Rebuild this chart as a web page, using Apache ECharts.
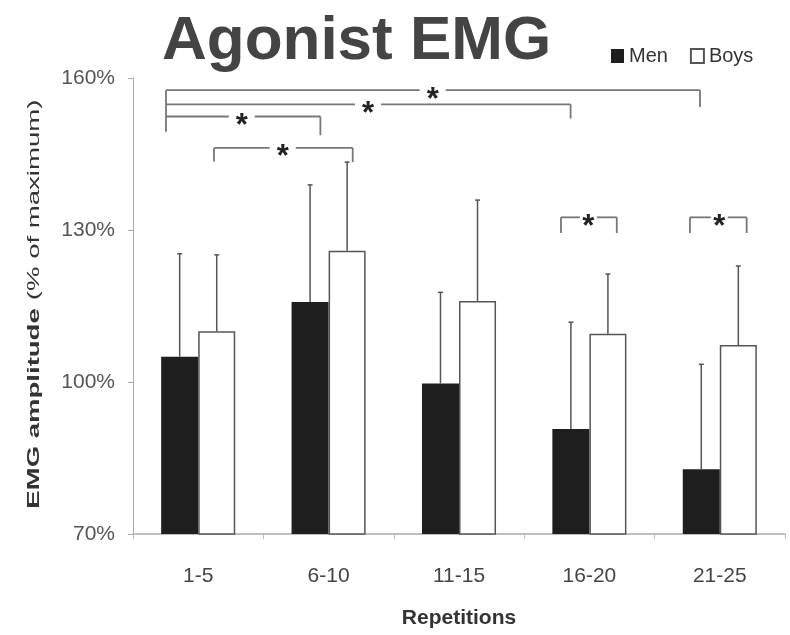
<!DOCTYPE html>
<html>
<head>
<meta charset="utf-8">
<title>Agonist EMG</title>
<script src="https://cdn.jsdelivr.net/npm/echarts@6/dist/echarts.min.js"></script>
<style>
  html, body { margin: 0; padding: 0; background: #fff; }
  #chart { width: 790px; height: 635px; }
</style>
</head>
<body>
<div id="chart"></div>
<script>
// Repetition blocks on the x axis
const categories = ['1-5', '6-10', '11-15', '16-20', '21-25'];

// EMG amplitude, % of maximum: group means and standard deviations
const menMean = [105.0, 115.8, 99.7, 90.7, 82.8];
const menSD   = [20.3, 23.1, 18.0, 21.1, 20.7];
const boysMean = [110.0, 125.9, 116.0, 109.5, 107.3];
const boysSD   = [15.1, 17.5, 19.9, 11.8, 15.6];

// Y axis range and tick step (%)
const yMin = 70, yMax = 160, yStep = 30;

// Significance brackets: x in category units (0 = centre of "1-5"),
// heights in % of maximum
const sigBrackets = [
  { from: -0.247, to: 3.848, level: 157.6, leftEnd: 149.4, rightEnd: 154.3, star: 1.798 },
  { from: -0.247, to: 2.856, level: 154.8, rightEnd: 152.0, star: 1.302 },
  { from: -0.247, to: 0.937, level: 152.4, rightEnd: 148.7, star: 0.334 },
  { from: 0.121, to: 1.185, level: 146.2, leftEnd: 143.5, rightEnd: 143.4, star: 0.648 },
  { from: 2.782, to: 3.210, level: 132.5, leftEnd: 129.4, rightEnd: 129.4, star: 2.992 },
  { from: 3.771, to: 4.206, level: 132.5, leftEnd: 129.4, rightEnd: 129.4, star: 3.996 }
];

const FONT = '"Liberation Sans", Arial, Helvetica, sans-serif';
const BAR_FRAC = 0.284;          // bar width as a share of the category band
const ERR_COLOR = '#555';
const BRACKET_COLOR = '#777';

// Vertical SD whisker sitting on top of a bar; side -1 = left bar, +1 = right bar
function errorBar(side) {
  return function (params, api) {
    const i = api.value(0), m = api.value(1), sd = api.value(2);
    const band = api.size([1, 0])[0];
    const base = api.coord([i, m]);
    const top = api.coord([i, m + sd]);
    const x = base[0] + side * band * BAR_FRAC / 2;
    return {
      type: 'group',
      children: [
        { type: 'line', shape: { x1: x, y1: base[1], x2: x, y2: top[1] },
          style: { stroke: ERR_COLOR, lineWidth: 1.5 } },
        { type: 'line', shape: { x1: x - 2.5, y1: top[1], x2: x + 2.5, y2: top[1] },
          style: { stroke: ERR_COLOR, lineWidth: 1.5 } }
      ]
    };
  };
}

// Bracket with a star in a gap of the horizontal line
function bracket(params, api) {
  const b = sigBrackets[params.dataIndex];
  const band = api.size([1, 0])[0];
  const c0 = api.coord([0, b.level]);
  const px = p => c0[0] + p * band;
  const yOf = v => api.coord([0, v])[1];
  const y = c0[1];
  const xl = px(b.from), xr = px(b.to), xs = px(b.star);
  const gap = (b.to - b.from) > 0.6 ? 13 : 8.5;
  const st = { stroke: BRACKET_COLOR, lineWidth: 1.8 };
  const children = [
    { type: 'line', shape: { x1: xl, y1: y, x2: xs - gap, y2: y }, style: st },
    { type: 'line', shape: { x1: xs + gap, y1: y, x2: xr, y2: y }, style: st },
    { type: 'text', x: xs, y: y + 10,
      style: { text: '*', font: 'bold 31px ' + FONT, fill: '#222',
               align: 'center', verticalAlign: 'middle' } }
  ];
  if (b.leftEnd != null) {
    children.push({ type: 'line', shape: { x1: xl, y1: y, x2: xl, y2: yOf(b.leftEnd) }, style: st });
  }
  if (b.rightEnd != null) {
    children.push({ type: 'line', shape: { x1: xr, y1: y, x2: xr, y2: yOf(b.rightEnd) }, style: st });
  }
  return { type: 'group', children: children };
}

const chart = echarts.init(document.getElementById('chart'), null, { renderer: 'canvas' });

chart.setOption({
  animation: false,
  backgroundColor: '#fff',
  textStyle: { fontFamily: FONT },
  title: {
    text: 'Agonist EMG',
    left: 157,
    top: 6,
    textStyle: { fontSize: 62, fontWeight: 'bold', color: '#444', fontFamily: FONT }
  },
  legend: {
    data: ['Men', 'Boys'],
    left: 606,
    top: 41,
    icon: 'rect',
    itemWidth: 13,
    itemHeight: 14,
    itemGap: 22,
    textStyle: { fontSize: 20, color: '#333', fontFamily: FONT }
  },
  grid: { left: 133, right: 5, top: 78, bottom: 101 },
  xAxis: {
    type: 'category',
    data: categories,
    axisLine: { lineStyle: { color: '#aaa', width: 1.5 } },
    axisTick: { show: true, length: 5, lineStyle: { color: '#bbb' } },
    axisLabel: { fontSize: 21, color: '#444', margin: 32 },
    name: 'Repetitions',
    nameLocation: 'middle',
    nameGap: 74,
    nameTextStyle: { fontSize: 21, fontWeight: 'bold', color: '#333' }
  },
  yAxis: {
    type: 'value',
    min: yMin,
    max: yMax,
    interval: yStep,
    axisLine: { show: true, lineStyle: { color: '#aaa' } },
    axisTick: { show: true, length: 5, lineStyle: { color: '#aaa' } },
    axisLabel: { formatter: '{value}%', fontSize: 21, color: '#555', margin: 18 },
    splitLine: { show: false }
  },
  graphic: [{
    type: 'group',
    x: 34,
    y: 305,
    rotation: Math.PI / 2,
    scaleX: 1.62,
    children: [
      { type: 'text', x: -2, y: 0,
        style: { text: 'EMG amplitude', font: 'bold 17px ' + FONT, fill: '#333',
                 align: 'right', verticalAlign: 'middle' } },
      { type: 'text', x: 3, y: 0,
        style: { text: '(% of maximum)', font: '17px ' + FONT, fill: '#333',
                 align: 'left', verticalAlign: 'middle' } }
    ]
  }],
  series: [
    {
      name: 'Men', type: 'bar', data: menMean,
      barWidth: (BAR_FRAC * 100) + '%', barGap: '0%',
      itemStyle: { color: '#1e1e1e' }
    },
    {
      name: 'Boys', type: 'bar', data: boysMean,
      barWidth: (BAR_FRAC * 100) + '%', barGap: '0%',
      itemStyle: { color: '#fff', borderColor: '#555', borderWidth: 1.5 }
    },
    {
      name: 'Men SD', type: 'custom', z: 5,
      data: menMean.map((m, i) => [i, m, menSD[i]]),
      encode: { x: 0, y: 1 },
      renderItem: errorBar(-1)
    },
    {
      name: 'Boys SD', type: 'custom', z: 5,
      data: boysMean.map((m, i) => [i, m, boysSD[i]]),
      encode: { x: 0, y: 1 },
      renderItem: errorBar(1)
    },
    {
      name: 'Significance', type: 'custom', z: 6, clip: false,
      data: sigBrackets.map(b => [0, b.level]),
      encode: { x: 0, y: 1 },
      renderItem: bracket
    }
  ]
});
</script>
</body>
</html>
